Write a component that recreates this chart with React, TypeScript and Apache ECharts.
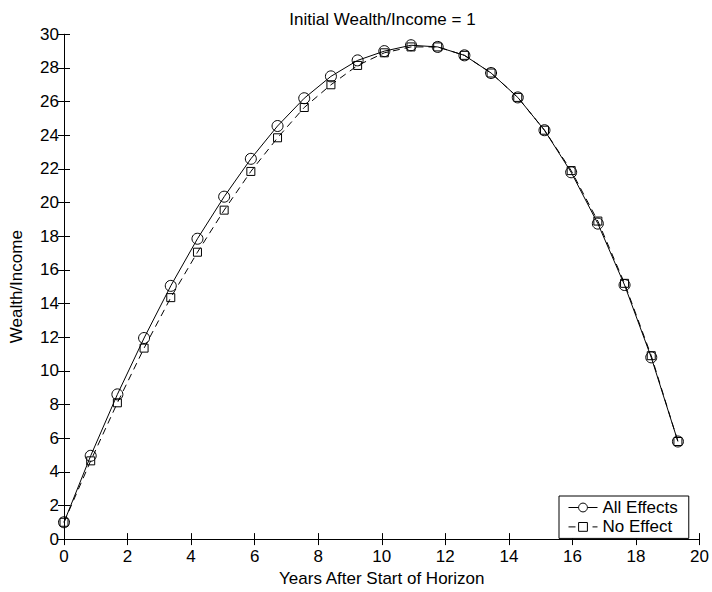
import React, { useEffect, useRef } from "react";
import * as echarts from "echarts";

const years = [0, 0.84, 1.68, 2.52, 3.36, 4.2, 5.04, 5.88, 6.72, 7.56, 8.4, 9.24, 10.08, 10.92, 11.76, 12.6, 13.44, 14.28, 15.12, 15.96, 16.8, 17.64, 18.48, 19.32];
const allEffects = [1.0, 4.95, 8.6, 11.95, 15.05, 17.85, 20.35, 22.6, 24.55, 26.2, 27.5, 28.45, 29.0, 29.35, 29.25, 28.75, 27.7, 26.25, 24.3, 21.8, 18.75, 15.1, 10.8, 5.8];
const noEffect = [1.0, 4.65, 8.1, 11.35, 14.35, 17.05, 19.55, 21.85, 23.85, 25.65, 27.0, 28.15, 28.9, 29.25, 29.25, 28.75, 27.7, 26.25, 24.3, 21.9, 18.9, 15.2, 10.9, 5.8];
const seriesNames = ["All Effects", "No Effect"];
const titleText = "Initial Wealth/Income = 1";
const xTitle = "Years After Start of Horizon";
const yTitle = "Wealth/Income";

const FONT = "'Liberation Sans', Arial, Helvetica, sans-serif";

export default function App() {
  const ref = useRef<HTMLDivElement>(null);
  useEffect(() => {
    if (!ref.current) return;
    const chart = echarts.init(ref.current, null, { renderer: "svg" });
    const axisLine = { show: true, lineStyle: { color: "#000", width: 1 } };
    const tick = { show: true, inside: true, length: 6, lineStyle: { color: "#000", width: 1 } };
    const label = { color: "#000", fontSize: 17, fontFamily: FONT };
    chart.setOption({
      animation: false,
      backgroundColor: "#fff",
      title: {
        text: titleText,
        left: 377.5,
        textAlign: "center",
        top: 6,
        textStyle: { color: "#000", fontSize: 17, fontWeight: "normal", fontFamily: FONT },
      },
      grid: { left: 53.3, right: 10.2, top: 34.3, bottom: 46.3, containLabel: false },
      xAxis: [
        {
          type: "value",
          min: 0,
          max: 20,
          interval: 2,
          position: "bottom",
          axisLine,
          axisTick: tick,
          splitLine: { show: false },
          axisLabel: { ...label, margin: 9 },
          name: xTitle,
          nameLocation: "middle",
          nameGap: 27,
          nameTextStyle: { color: "#000", fontSize: 17, fontFamily: FONT },
        },
        {
          type: "value",
          min: 0,
          max: 20,
          interval: 2,
          position: "top",
          axisLine,
          axisTick: tick,
          splitLine: { show: false },
          axisLabel: { show: false },
        },
      ],
      yAxis: [
        {
          type: "value",
          min: 0,
          max: 30,
          interval: 2,
          position: "left",
          axisLine,
          axisTick: tick,
          splitLine: { show: false },
          axisLabel: { ...label, margin: 5 },
          name: yTitle,
          nameLocation: "middle",
          nameGap: 39,
          nameRotate: 90,
          nameTextStyle: { color: "#000", fontSize: 17, fontFamily: FONT },
        },
        {
          type: "value",
          min: 0,
          max: 30,
          interval: 2,
          position: "right",
          axisLine,
          axisTick: tick,
          splitLine: { show: false },
          axisLabel: { show: false },
        },
      ],
      legend: {
        left: 559,
        top: 496,
        orient: "vertical",
        backgroundColor: "#fff",
        borderColor: "#000",
        borderWidth: 1,
        padding: [3, 11, 3, 9],
        itemGap: 2.4,
        itemWidth: 29,
        itemHeight: 11,
        lineStyle: { width: 1, color: "#000" },
        itemStyle: { borderWidth: 1, borderColor: "#000", color: "#fff" },
        textStyle: { color: "#000", fontSize: 17, fontFamily: FONT, lineHeight: 17 },
        data: seriesNames,
      },
      series: [
        {
          name: seriesNames[0],
          type: "line",
          xAxisIndex: 0,
          yAxisIndex: 0,
          data: years.map((x, i) => [x, allEffects[i]]),
          symbol: "circle",
          symbolSize: 11,
          lineStyle: { color: "#000", width: 1, type: "solid" },
          itemStyle: { color: "rgba(255,255,255,0)", borderColor: "#000", borderWidth: 1 },
          z: 3,
        },
        {
          name: seriesNames[1],
          type: "line",
          xAxisIndex: 0,
          yAxisIndex: 0,
          data: years.map((x, i) => [x, noEffect[i]]),
          symbol: "rect",
          symbolSize: 8,
          lineStyle: { color: "#000", width: 1, type: [7, 5] },
          itemStyle: { color: "rgba(255,255,255,0)", borderColor: "#000", borderWidth: 1 },
          z: 2,
        },
      ],
    });
    return () => chart.dispose();
  }, []);
  return <div ref={ref} style={{ width: 712, height: 592, position: "absolute", left: 0, top: 0 }} />;
}
